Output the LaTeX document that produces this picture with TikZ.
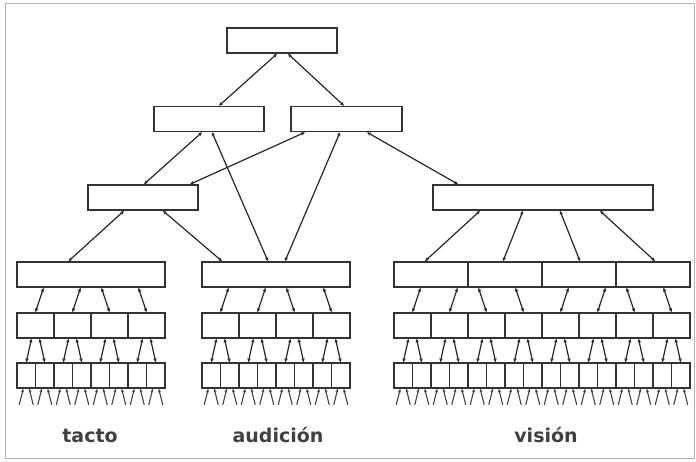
\documentclass[tikz,border=0pt]{standalone}
\usepackage{fontspec}
\newfontfamily\labelfont{DejaVu Sans}
\usetikzlibrary{arrows.meta,calc,positioning}

\begin{document}
\begin{tikzpicture}[x=1pt,y=-1pt]
\tikzstyle{unit}=[rectangle,draw=black!80,line width=1.6pt,inner sep=0pt,minimum height=25pt]
\tikzstyle{link}=[{Stealth[length=4pt,width=3.5pt]}-{Stealth[length=4pt,width=3.5pt]},line width=1.2pt,draw=black!85]
\tikzstyle{feed}=[{Stealth[length=3.5pt,width=3pt]}-,line width=1.1pt,draw=black!75]
\tikzstyle{sense}=[font=\labelfont\bfseries\fontsize{19}{22}\selectfont,text=black!75,anchor=base]

\useasboundingbox (0,0) rectangle (696,461);
\draw[black!30,line width=1pt] (5,3.5) rectangle (694.5,458.5);

% upper levels
\node[unit,minimum width=110pt] (top) at (282,40.5) {};
\node[unit,minimum width=110pt] (m1) at (209,119) {};
\node[unit,minimum width=111pt] (m2) at (346.5,119) {};
\node[unit,minimum width=110pt] (s1) at (143,197.5) {};
\node[unit,minimum width=220pt] (s2) at (543,197.5) {};

% sensory columns: name/left/width/boxes per row
\foreach \blk/\xa/\bw/\ka/\kb/\kc in {t/17/148/1/4/8, a/202/148/1/4/8, v/394/296/4/8/16}{
  \foreach \q in {1,...,\ka}
    \node[unit,minimum width=\bw pt/\ka] (\blk4-\q) at ({\xa+\bw*(\q-0.5)/\ka},274.5) {};
  \foreach \q in {1,...,\kb}
    \node[unit,minimum width=\bw pt/\kb] (\blk5-\q) at ({\xa+\bw*(\q-0.5)/\kb},325.5) {};
  \foreach \q in {1,...,\kc}
    \node[unit,minimum width=\bw pt/\kc] (\blk6-\q) at ({\xa+\bw*(\q-0.5)/\kc},375.5) {};
  % row 4 to row 5
  \foreach \q in {1,...,\kb}{
    \pgfmathsetmacro\sg{mod(\q-1,4)<2 ? 8 : -8}
    \draw[link] ([xshift=\sg pt]\blk5-\q.north |- \blk4-1.south) -- (\blk5-\q.north);
  }
  % row 5 to row 6
  \foreach \q in {1,...,\kc}{
    \pgfmathtruncatemacro\pa{ceil(\q/2)}
    \pgfmathsetmacro\sg{mod(\q,2)==1 ? -4 : 4}
    \draw[link] ([xshift=\sg pt]\blk5-\pa.south) -- (\blk6-\q.north);
  }
  % inputs
  \foreach \q in {1,...,\kc}{
    \draw[feed] ([xshift=-3pt]\blk6-\q.south) -- ++(-4,16);
    \draw[feed] ([xshift=3pt]\blk6-\q.south) -- ++(4,16);
  }
}

\draw[link] ([xshift=-5pt]top.south) -- ([xshift=10pt]m1.north);
\draw[link] ([xshift=6pt]top.south) -- ([xshift=-2.5pt]m2.north);
\draw[link] ([xshift=-7pt]m1.south) -- ([xshift=1pt]s1.north);
\draw[link] ([xshift=3pt]m1.south) -- ([xshift=-8pt]a4-1.north);
\draw[link] ([xshift=-41.5pt]m2.south) -- ([xshift=47pt]s1.north);
\draw[link] ([xshift=-6.5pt]m2.south) -- ([xshift=9pt]a4-1.north);
\draw[link] ([xshift=20.5pt]m2.south) -- ([xshift=-85pt]s2.north);
\draw[link] ([xshift=-19pt]s1.south) -- ([xshift=-22.5pt]t4-1.north);
\draw[link] ([xshift=20pt]s1.south) -- ([xshift=-54pt]a4-1.north);
\foreach \q/\dx/\dy in {1/-63/-6, 2/-20/-2, 3/17/1, 4/57/2}
  \draw[link] ([xshift=\dx pt]s2.south) -- ([xshift=\dy pt]v4-\q.north);

\node[sense] (tacto) at (90,442) {tacto};
\node[sense] (audicion) at (278,442) {audición};
\node[sense] (vision) at (546,442) {visión};
\end{tikzpicture}
\end{document}
